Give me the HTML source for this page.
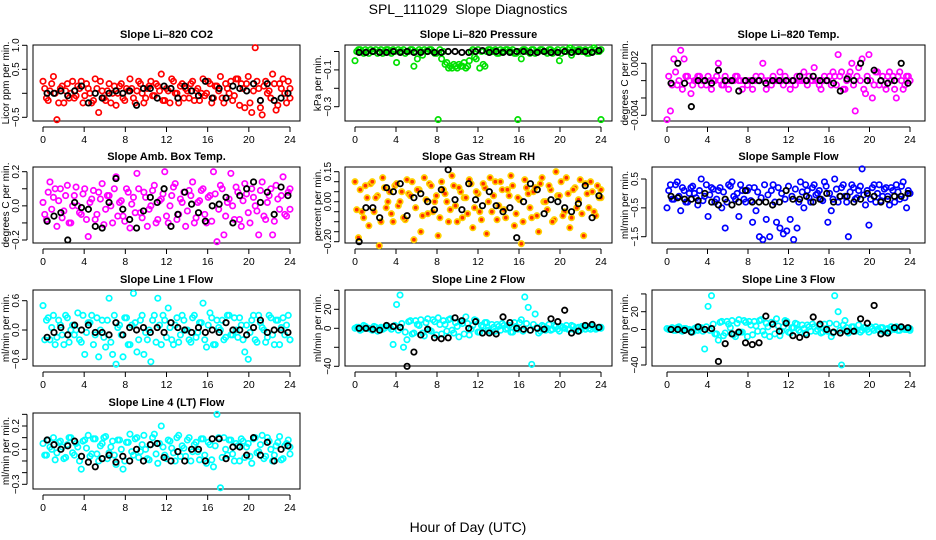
<!DOCTYPE html>
<html><head><meta charset="utf-8"><style>
html,body{margin:0;padding:0;background:#fff;}
svg{display:block;font-family:"Liberation Sans",Arial,sans-serif;}
</style></head><body>
<svg id="chart" width="936" height="540" viewBox="0 0 936 540" xmlns="http://www.w3.org/2000/svg">
<text x="468" y="14" text-anchor="middle" font-size="14" xml:space="preserve">SPL_111029  Slope Diagnostics</text>
<text x="468" y="532" text-anchor="middle" font-size="14">Hour of Day (UTC)</text>
</svg>
<script>
const hourTicks = [0,4,8,12,16,20,24];
const co2Colored = [0.25,-0.1,0.05,0.35,-0.55,0.1,-0.2,0.2,0.0,-0.1,0.15,0.25,-0.05,0.1,-0.2,0.3,-0.4,0.05,-0.15,0.2,0.0,-0.25,0.15,-0.1,0.1,0.3,-0.1,0.05,0.2,-0.2,0.1,0.25,-0.05,0.15,0.4,-0.15,0.05,0.3,0.0,-0.2,0.2,0.1,-0.1,0.25,0.05,-0.15,0.3,0.0,0.2,-0.1,0.15,0.35,-0.2,0.1,0.25,-0.05,0.3,0.2,-0.3,0.35,-0.4,0.95,0.1,-0.45,0.25,0.05,0.4,-0.35,0.2,0.3,-0.2,0.1];
const co2Colored2 = [0.1,-0.15,0.2,0.0,-0.2,0.15,0.05,-0.1,0.25,-0.05,0.1,-0.2,0.2,0.0,-0.15,0.1,0.25,-0.1,0.05,-0.2,0.15,0.0,0.2,-0.15,0.05,0.1,-0.2,0.25,0.0,-0.1,0.15,-0.05,0.2,0.05,-0.15,0.1,-0.2,0.25,0.0,0.15,-0.1,0.05,0.2,-0.15,0.1,0.0,-0.05,0.25,-0.2,0.15,0.05,-0.1,0.2,0.0,-0.15,0.3,-0.25,0.1,0.2,-0.2,0.05,0.25,-0.3,0.15,0.0,-0.1,0.2,-0.25,0.1,0.0,0.25,-0.1];
const co2Black = [0.0,0.0,0.05,-0.05,0.05,0.15,-0.2,0.0,-0.1,0.0,0.05,0.0,0.05,-0.25,0.1,0.1,-0.1,0.15,0.1,-0.1,0.15,0.05,-0.05,0.25,-0.1,0.1,-0.1,0.15,0.1,0.05,0.2,-0.15,0.2,-0.15,-0.1,0.0];
const presColored = [-0.05,0.01,0.0,0.01,-0.01,0.0,0.01,0.0,-0.01,0.01,0.0,0.01,-0.06,0.0,0.01,0.0,0.01,-0.08,-0.04,0.0,0.01,0.0,0.01,-0.01,-0.37,-0.04,-0.07,-0.09,-0.09,-0.08,-0.07,-0.08,-0.09,-0.05,0.01,-0.04,-0.09,-0.07,0.0,0.01,0.0,-0.01,0.01,0.0,0.01,0.0,-0.01,-0.37,-0.04,0.01,0.0,0.01,-0.01,0.0,0.01,0.0,0.01,-0.01,0.0,-0.05,0.01,0.0,0.02,0.01,0.0,0.01,0.0,-0.01,0.01,0.02,0.0,-0.37];
const presColored2 = [0.0,0.01,-0.01,0.0,0.01,0.0,-0.01,0.01,0.0,0.01,-0.01,0.0,0.01,0.0,-0.01,0.0,0.01,0.0,0.01,-0.02,0.0,0.01,0.0,-0.01,0.01,0.0,-0.06,-0.08,-0.07,-0.09,-0.08,-0.06,-0.08,0.0,-0.03,0.01,0.0,-0.08,0.01,0.0,0.01,-0.01,0.0,0.01,0.0,0.01,-0.01,0.0,0.01,0.0,-0.01,0.01,0.0,0.01,0.0,-0.01,0.01,0.0,0.01,-0.01,0.0,0.01,-0.02,0.0,0.01,0.0,0.01,-0.01,0.0,0.01,0.0,0.01];
const presBlack = [-0.005,-0.005,0,-0.005,-0.005,0,-0.005,0,-0.005,-0.005,0,-0.005,-0.005,0,0,-0.005,-0.005,0,0.005,-0.005,0,-0.005,-0.005,0,0,-0.005,-0.005,0,-0.005,-0.005,0,-0.005,0,0,-0.005,0.005];
const tempColored = [-0.0045,-0.0035,0.0025,-0.0005,0.0035,0.0025,0.0005,-0.0015,0.0,0.0005,-0.0005,0.0,0.0005,-0.001,0.0,0.002,-0.0005,0.0005,-0.001,0.0,0.0005,0.0,-0.001,0.0,0.0,-0.001,0.0005,0.0,0.002,-0.001,0.0,0.0005,0.0,0.001,-0.0005,0.0,-0.001,0.0,0.0005,0.0,0.001,-0.0005,0.0,0.0015,0.0,-0.001,0.0005,0.0,-0.0005,0.0005,0.003,0.001,-0.001,0.0005,0.002,-0.0035,0.0015,0.0025,-0.0015,0.003,-0.002,0.001,-0.0005,0.0005,-0.001,0.001,0.0005,-0.002,0.001,-0.001,0.0005,0.0];
const tempColored2 = [0.0005,-0.0005,0.001,0.0,-0.001,0.0005,0.0,-0.0005,0.0,0.0005,0.0,-0.0005,0.0,0.0,0.0005,0.0,-0.0005,0.0,0.0,0.0,0.0005,0.0,0.0,-0.0005,0.0,0.0,0.0,0.0005,0.0,0.0,-0.0005,0.0,0.0,0.0,0.0005,0.0,0.0,-0.0005,0.0,0.0,0.0,0.0005,0.0,0.0,-0.0005,0.0,0.0,0.0005,0.001,-0.0005,0.0005,-0.001,0.0,0.001,-0.0005,0.0005,0.0,-0.001,0.0005,0.0,-0.0005,0.001,0.0,-0.0005,0.0005,0.0,-0.001,0.0005,0.0,-0.0005,0.0005,0.0];
const tempBlack = [-0.0003,0.002,-0.0003,-0.003,0,0,-0.0003,0.0012,0,0,-0.0012,0,0,0,-0.0003,0,0,0,0,0.0005,0,0.0005,0,0,-0.0003,-0.0012,0.0002,0,0.002,0,0.0012,0,-0.0003,0,0.002,-0.0003];
const ambColored = [0.02,-0.08,0.14,0.05,-0.12,0.1,-0.03,0.12,-0.1,0.06,0.0,-0.05,0.1,-0.18,0.04,-0.08,0.08,0.13,-0.02,0.06,-0.1,0.17,0.02,-0.06,0.1,-0.13,0.05,0.19,-0.04,0.08,-0.12,0.0,0.12,-0.08,0.04,0.2,-0.1,0.06,0.13,-0.05,0.02,-0.12,0.09,0.14,-0.07,0.03,0.1,-0.1,0.06,0.2,-0.21,0.12,-0.17,0.02,0.19,-0.08,0.08,-0.12,0.13,-0.04,0.1,0.0,-0.17,0.14,-0.08,0.06,-0.17,0.12,-0.02,0.17,-0.06,0.1];
const ambColored2 = [-0.05,0.08,-0.02,0.1,0.03,-0.07,0.06,-0.1,0.0,0.11,-0.04,0.07,-0.08,0.02,0.09,-0.05,0.04,-0.11,0.06,0.0,0.1,-0.06,0.03,-0.09,0.08,0.01,-0.04,0.1,-0.07,0.05,-0.02,0.09,-0.1,0.03,0.07,-0.06,0.0,0.11,-0.08,0.04,0.08,-0.03,0.06,-0.1,0.02,0.09,-0.05,0.05,-0.09,0.07,-0.02,0.1,-0.06,0.04,0.0,0.11,-0.08,0.03,0.07,-0.1,0.05,-0.03,0.09,-0.06,0.02,0.1,-0.09,0.04,0.06,-0.05,0.08,-0.02];
const ambBlack = [-0.09,-0.06,-0.04,-0.2,0.02,-0.01,-0.02,-0.12,-0.13,0.02,0.16,-0.02,-0.08,-0.13,-0.03,0.05,0.02,0.1,-0.12,-0.05,0.08,0.01,-0.04,-0.09,0.0,0.01,0.05,-0.1,0.06,0.1,0.14,0.02,0.08,-0.05,0.11,0.06];
const rhColored = [0.1,-0.18,-0.05,0.08,-0.12,0.1,0.02,-0.22,0.12,-0.03,0.05,-0.1,0.09,0.0,-0.08,0.11,0.03,-0.19,0.06,-0.15,0.12,-0.06,0.08,0.0,-0.17,0.1,0.04,-0.1,0.13,-0.02,0.07,-0.08,0.02,0.11,-0.13,0.05,-0.05,0.09,-0.16,0.12,0.03,-0.09,0.1,-0.04,0.06,0.13,-0.12,0.02,-0.21,0.11,0.04,-0.08,0.07,-0.15,0.12,0.0,0.08,-0.1,0.15,0.03,-0.07,0.12,-0.13,0.06,-0.03,0.11,-0.17,0.04,0.1,-0.05,0.08,0.02];
const rhColored2 = [-0.04,0.06,-0.08,0.02,0.09,-0.05,0.03,-0.1,0.07,0.0,-0.06,0.08,-0.02,0.05,-0.09,0.04,0.1,-0.03,0.06,-0.07,0.01,0.09,-0.05,0.03,-0.08,0.06,0.0,-0.04,0.08,-0.1,0.05,0.02,-0.06,0.09,-0.03,0.04,-0.09,0.07,0.0,-0.05,0.1,-0.02,0.06,-0.08,0.03,0.08,-0.06,0.01,-0.1,0.07,-0.03,0.05,-0.07,0.09,0.0,-0.04,0.06,-0.09,0.03,0.1,-0.05,0.04,-0.08,0.07,0.01,-0.06,0.09,-0.03,0.05,-0.07,0.02,0.06];
const rhBlack = [-0.2,-0.03,-0.03,-0.08,0.07,0.05,0.09,-0.07,0.02,0.04,0.0,-0.04,0.06,0.16,0.01,-0.04,0.09,0.01,-0.02,0.05,-0.02,-0.05,-0.03,-0.18,0.0,0.09,0.06,-0.06,0.01,0.0,-0.03,-0.05,-0.01,0.08,-0.08,0.03];
const flowColored = [-0.5,0.3,-0.2,0.4,-0.6,0.1,-0.3,0.2,0.0,-0.4,0.5,-0.1,-0.8,0.2,-0.3,0.1,-0.5,-1.2,0.3,0.4,-0.2,-0.8,0.1,-0.3,0.2,-1.0,-0.6,-1.5,-1.6,-0.9,-1.5,0.3,-1.0,-1.2,-1.4,-1.3,-0.9,-1.6,-1.2,0.4,-0.5,0.1,-0.3,0.3,0.0,-0.2,0.4,-1.0,-0.6,0.5,-0.3,0.2,-0.1,-1.5,0.3,-0.2,0.1,0.85,-0.4,-1.1,0.2,-0.3,0.3,-0.1,0.2,-0.4,0.1,0.3,-0.2,0.4,-0.5,0.0];
const flowColored2 = [0.1,-0.2,0.3,-0.1,0.2,-0.3,0.0,0.25,-0.15,0.1,-0.25,0.3,-0.05,0.15,-0.2,0.2,0.05,-0.3,0.25,-0.1,0.0,0.3,-0.2,0.1,-0.25,0.2,0.05,-0.15,0.3,-0.05,0.1,-0.3,0.2,0.0,-0.2,0.25,-0.1,0.15,-0.3,0.05,0.3,-0.15,0.2,-0.05,0.1,-0.25,0.25,0.0,-0.2,0.15,-0.1,0.3,-0.3,0.05,0.2,-0.15,0.25,-0.05,0.1,-0.2,0.3,0.0,-0.25,0.15,-0.1,0.2,-0.3,0.05,0.25,-0.15,0.1,0.0];
const flowBlack = [-0.1,-0.15,-0.2,-0.2,-0.25,0.0,-0.3,-0.4,-0.2,-0.4,-0.3,0.1,-0.3,-0.3,-0.3,-0.4,-0.3,0.1,-0.2,-0.2,-0.1,-0.3,-0.2,0.0,-0.3,-0.1,-0.1,-0.3,-0.2,0.0,-0.1,-0.3,-0.2,-0.1,-0.1,0.0];
const line1Colored = [0.5,0.2,-0.2,0.3,-0.15,0.1,-0.3,0.25,0.0,-0.1,0.35,-0.25,-0.5,0.15,0.3,-0.1,-0.55,0.2,-0.35,0.65,-0.5,-0.7,0.1,-0.55,0.25,-0.3,0.75,-0.45,0.2,-0.5,-0.2,-0.65,0.3,0.65,-0.3,0.2,0.45,-0.2,0.1,-0.25,0.3,0.0,-0.2,0.25,-0.15,0.15,0.55,-0.35,0.35,-0.3,0.2,0.0,-0.2,0.3,-0.1,0.25,-0.15,0.1,-0.45,-0.6,0.2,-0.2,0.3,0.05,-0.25,0.3,-0.1,0.2,-0.3,0.25,0.1,-0.2];
const line1Colored2 = [-0.2,0.25,0.05,-0.3,0.2,-0.1,0.3,-0.25,0.1,0.0,-0.2,0.3,-0.05,0.15,-0.3,0.25,0.0,-0.15,0.2,-0.25,0.3,0.05,-0.1,0.25,-0.3,0.1,0.15,-0.2,0.3,-0.05,0.0,0.2,-0.25,0.1,0.3,-0.15,0.05,-0.3,0.25,-0.1,0.2,0.0,-0.25,0.3,-0.05,0.15,-0.2,0.1,0.25,-0.3,0.05,0.2,-0.15,0.3,-0.1,0.0,0.25,-0.2,0.1,-0.05,0.3,-0.25,0.15,0.0,-0.15,0.25,-0.3,0.2,0.05,-0.1,0.3,-0.2];
const line1Black = [-0.15,-0.05,0.05,-0.1,0.1,0.0,0.1,-0.05,-0.05,-0.1,0.15,-0.1,0.05,0.0,0.05,-0.05,0.05,-0.05,0.15,0.05,0.0,-0.05,0.05,-0.05,0.0,-0.05,0.15,0.0,0.0,-0.1,0.05,0.2,-0.05,0.0,0.0,-0.05];
const line2Colored = [0,1,-1,2,0,-2,1,0,-1,2,1,-17,25,35,-20,-12,8,-5,4,9,-8,10,-3,7,11,-6,4,9,-2,6,-9,5,12,-7,3,8,-4,2,6,-3,1,4,-2,3,0,-4,6,-1,9,33,22,-38,15,-5,3,-2,4,-1,2,-3,1,3,-1,2,0,-2,1,2,-1,1,0,1];
const line2Colored2 = [1,-2,3,0,-1,2,-3,1,0,2,-1,3,-2,5,-4,7,-6,8,3,-5,6,-2,9,-7,4,8,-3,10,-5,2,7,-6,5,-1,9,-4,3,6,-2,4,-3,2,5,-1,3,-4,2,6,-3,5,-2,4,1,-3,2,0,-2,3,-1,2,0,-1,3,-2,1,2,-1,0,2,-1,1,0];
const line2Black = [0,0,-1,-2,3,2,1,-40,-25,-7,-1,-10,-11,-10,11,8,0,7,-5,-5,-6,12,6,0,-1,-2,0,-1,10,7,19,-5,-3,3,4,1];
const line3Colored = [1,0,-1,2,-1,1,0,-2,1,-1,2,-22,26,38,-5,-12,9,-4,6,10,-8,11,-3,8,9,-6,4,10,-2,7,-8,6,12,-7,3,9,-4,2,6,-3,1,5,-2,3,0,-4,6,-2,-8,38,20,-40,10,-4,3,-2,5,-1,2,-3,1,3,-1,2,0,-2,1,3,-1,1,0,1];
const line3Colored2 = [0,2,-1,3,-2,1,0,-3,2,1,-2,3,-1,6,-5,8,-7,9,2,-6,7,-3,10,-8,5,9,-2,11,-6,3,8,-5,4,-2,10,-3,2,7,-1,5,-4,3,6,-2,4,-3,1,7,-4,6,-1,5,2,-2,3,-1,-3,2,0,3,-1,0,2,-3,1,3,0,-1,2,0,1,-1];
const line3Black = [0,0,-1,-3,3,0,1,-36,-16,-5,-3,-15,-17,-15,15,6,-2,7,-7,-9,-6,14,6,0,-3,-4,-2,-2,12,7,27,-5,-4,2,3,2];
const line4Colored = [0.05,-0.05,0.02,0.1,-0.03,0.07,-0.08,0.04,0.1,-0.05,0.02,-0.17,0.08,0.12,-0.04,0.09,-0.1,0.05,0.11,-0.03,0.07,-0.13,0.08,-0.17,0.06,0.13,-0.05,0.1,-0.02,0.12,-0.08,0.04,0.13,-0.12,0.2,-0.05,0.08,0.01,-0.1,0.12,0.03,-0.06,0.1,-0.02,0.06,-0.09,0.09,-0.12,0.04,-0.15,0.3,-0.33,0.1,-0.05,0.08,-0.1,0.03,0.09,-0.07,0.05,-0.12,0.1,-0.02,0.12,-0.06,0.07,-0.1,0.03,0.11,-0.08,0.05,0.02];
const line4Colored2 = [-0.05,0.08,0.0,-0.09,0.06,0.02,-0.07,0.1,-0.03,0.05,-0.1,0.07,0.01,-0.06,0.09,-0.04,0.03,0.1,-0.08,0.02,-0.05,0.08,0.0,-0.1,0.06,-0.02,0.09,-0.07,0.04,0.0,-0.09,0.1,-0.04,0.05,0.02,-0.08,0.07,-0.03,0.1,-0.06,0.01,0.08,-0.1,0.04,-0.02,0.09,-0.05,0.06,-0.09,0.03,0.1,-0.07,0.0,0.08,-0.04,0.05,-0.1,0.07,0.02,-0.06,0.09,-0.03,0.04,-0.08,0.1,0.0,-0.05,0.06,-0.09,0.03,0.08,-0.04];
const line4Black = [0.08,0.04,0.0,0.03,0.07,-0.06,-0.11,-0.15,-0.08,-0.05,-0.11,-0.06,-0.1,0.0,-0.1,0.04,0.05,-0.07,-0.1,-0.02,-0.1,0.0,0.0,-0.1,0.09,0.09,-0.08,0.02,0.02,-0.05,0.1,-0.05,0.06,-0.1,0.0,0.03];

const NS = "http://www.w3.org/2000/svg";
const svg = document.getElementById('chart');
const cols = [{bx0:33,bx1:300,h0:43,h24:290},{bx0:345,bx1:612,h0:355,h24:601},{bx0:652,bx1:925,h0:667,h24:910}];
const rows = [{by0:45,by1:121},{by0:167,by1:243},{by0:290,by1:366},{by0:413,by1:489}];
const panels = [
 {name:'co2',title:'Slope Li\u2013820 CO2',ylab:'Licor ppm per min.',c:0,r:0,vA:0.5,pA:69.3,vB:-0.5,pB:117.3,ticks:[1,0.5,0,-0.5],labels:['1.0','0.5','','\u22120.5'],col:'#ff0000',cd:co2Colored,cd2:co2Colored2,kd:co2Black},
 {name:'pressure',title:'Slope Li\u2013820 Pressure',ylab:'kPa per min.',c:1,r:0,vA:0,pA:51.5,vB:-0.3,pB:106.7,ticks:[0,-0.1,-0.2,-0.3],labels:['','\u22120.1','','\u22120.3'],col:'#00e000',cd:presColored,cd2:presColored2,kd:presBlack},
 {name:'temp',title:'Slope Li\u2013820 Temp.',ylab:'degrees C per min.',c:2,r:0,vA:0.002,pA:63.3,vB:-0.004,pB:115.3,ticks:[0.002,0,-0.002,-0.004],labels:['0.002','','','\u22120.004'],col:'#ff00ff',cd:tempColored,cd2:tempColored2,kd:tempBlack},
 {name:'amb-box-temp',title:'Slope Amb. Box Temp.',ylab:'degrees C per min.',c:0,r:1,vA:0.2,pA:171.7,vB:-0.2,pB:240,ticks:[0.2,0.1,0,-0.1,-0.2],labels:['0.2','','0.0','','\u22120.2'],col:'#ff00ff',cd:ambColored,cd2:ambColored2,kd:ambBlack},
 {name:'gas-stream-rh',title:'Slope Gas Stream RH',ylab:'percent per min.',c:1,r:1,vA:0.15,pA:171.7,vB:-0.2,pB:241.7,ticks:[0.15,0.1,0.05,0,-0.05,-0.1,-0.15,-0.2],labels:['0.15','','','0.00','','','','\u22120.20'],col:'rh',cd:rhColored,cd2:rhColored2,kd:rhBlack},
 {name:'sample-flow',title:'Slope Sample Flow',ylab:'ml/min per min.',c:2,r:1,vA:0.5,pA:179,vB:-1.5,pB:236.7,ticks:[0.5,-0.5,-1.5],labels:['0.5','\u22120.5','\u22121.5'],col:'#0000ff',cd:flowColored,cd2:flowColored2,kd:flowBlack},
 {name:'line1-flow',title:'Slope Line 1 Flow',ylab:'ml/min per min.',c:0,r:2,vA:0.6,pA:300.7,vB:-0.6,pB:359.3,ticks:[0.6,0,-0.6],labels:['0.6','0.0','\u22120.6'],col:'#00ffff',cd:line1Colored,cd2:line1Colored2,kd:line1Black},
 {name:'line2-flow',title:'Slope Line 2 Flow',ylab:'ml/min per min.',c:1,r:2,vA:20,pA:309.3,vB:-40,pB:366.3,ticks:[40,20,0,-20,-40],labels:['','20','0','','\u221240'],col:'#00ffff',cd:line2Colored,cd2:line2Colored2,kd:line2Black},
 {name:'line3-flow',title:'Slope Line 3 Flow',ylab:'ml/min per min.',c:2,r:2,vA:20,pA:311.7,vB:-40,pB:365,ticks:[40,20,0,-20,-40],labels:['','20','0','','\u221240'],col:'#00ffff',cd:line3Colored,cd2:line3Colored2,kd:line3Black},
 {name:'line4-flow',title:'Slope Line 4 (LT) Flow',ylab:'ml/min per min.',c:0,r:3,vA:0.2,pA:426,vB:-0.3,pB:484.3,ticks:[0.3,0.2,0.1,0,-0.1,-0.2,-0.3],labels:['','0.2','','0.0','','','\u22120.3'],col:'#00ffff',cd:line4Colored,cd2:line4Colored2,kd:line4Black}
];
function mk(tag, attrs, parent){const e=document.createElementNS(NS,tag);for(const k in attrs)e.setAttribute(k,attrs[k]);parent.appendChild(e);return e;}
panels.forEach(p=>{
  const C=cols[p.c],R=rows[p.r];
  const g=mk('g',{},svg);
  
  
  const xs=h=>C.h0+h*(C.h24-C.h0)/24;
  const ys=v=>p.pA+(v-p.vA)*(p.pB-p.pA)/(p.vB-p.vA);
  const box=mk('rect',{x:C.bx0,y:R.by0,width:C.bx1-C.bx0,height:R.by1-R.by0,fill:'none',stroke:'#000','stroke-width':1},g);
  
  
  const t=mk('text',{x:(C.bx0+C.bx1)/2,y:R.by0-7,'text-anchor':'middle','font-size':11,'font-weight':'bold'},g);
  t.textContent=p.title;
  
  
  const xb=R.by1+6;
  const xa=mk('line',{x1:xs(0),x2:xs(24),y1:xb,y2:xb,stroke:'#000'},g);
  
  
  hourTicks.forEach(h=>{
    mk('line',{x1:xs(h),x2:xs(h),y1:xb,y2:xb+5,stroke:'#000'},g);
    const l=mk('text',{x:xs(h),y:xb+16,'text-anchor':'middle','font-size':10.5},g);
    l.textContent=h;
    
    
  });
  const yb=C.bx0-6;
  const yv=p.ticks.map(ys);
  const ya=mk('line',{x1:yb,x2:yb,y1:Math.min(...yv),y2:Math.max(...yv),stroke:'#000'},g);
  
  
  p.ticks.forEach((v,i)=>{
    mk('line',{x1:yb-5,x2:yb,y1:ys(v),y2:ys(v),stroke:'#000'},g);
    if(p.labels[i]){
      const l=mk('text',{x:0,y:0,'text-anchor':'middle','font-size':10,transform:`translate(${yb-8},${ys(v)}) rotate(-90)`},g);
      l.textContent=p.labels[i];
      
      
    }
  });
  const yt=mk('text',{x:0,y:0,'text-anchor':'middle','font-size':10,transform:`translate(${C.bx0-24},${(R.by0+R.by1)/2}) rotate(-90)`},g);
  yt.textContent=p.ylab;
  
  
  function drawColored(arr, offset){
    const n=arr.length;
    arr.forEach((v,i)=>{
      const h=Math.min(24,(i+offset)*24/(n-1));
      const a={cx:xs(h),cy:ys(v),r:2.7,'stroke-width':1.7};
      if(p.col==='rh'){a.stroke='#ffd000';a.fill='#ff3000';}else{a.stroke=p.col;a.fill='none';}
      const c=mk('circle',a,g);
      
      
    });
  }
  drawColored(p.cd2, 0.5);
  drawColored(p.cd, 0);
  const m=p.kd.length;
  p.kd.forEach((v,i)=>{
    const h=0.4+i*23.4/(m-1);
    const c=mk('circle',{cx:xs(h),cy:ys(v),r:2.7,fill:'none',stroke:'#000','stroke-width':1.8},g);
    
    
  });
});
</script>
</body></html>
